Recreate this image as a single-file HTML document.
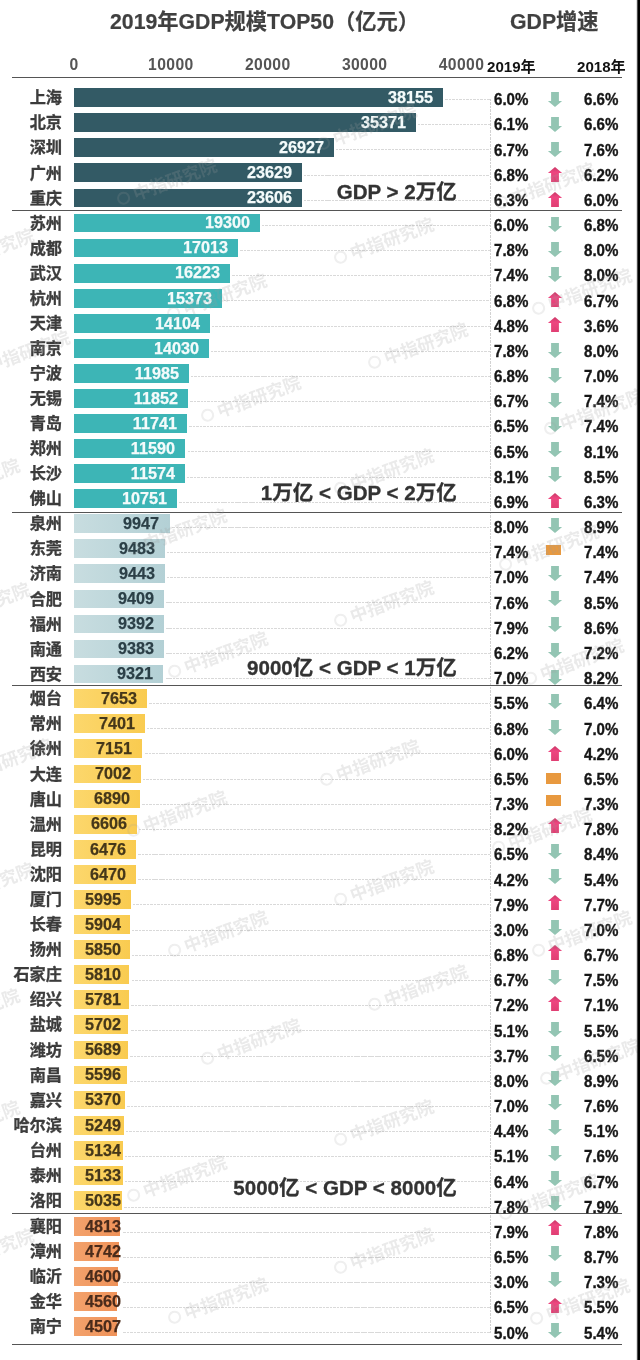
<!DOCTYPE html>
<html lang="zh"><head><meta charset="utf-8"><title>2019年GDP规模TOP50</title>
<style>
html,body{margin:0;padding:0;background:#fff}
body{width:640px;height:1360px;position:relative;overflow:hidden;font-family:"Liberation Sans","Noto Sans CJK SC",sans-serif;font-weight:bold;color:#333}
.wrap{position:absolute;left:0;top:0;width:640px;height:1360px;overflow:hidden;will-change:transform}
.a{position:absolute;white-space:nowrap}
.ttl{font-size:21.25px;line-height:30px;color:#404040;-webkit-text-stroke:.2px #404040}
.ax{font-size:15.7px;line-height:20px;color:#555;text-align:center;width:60px;letter-spacing:.4px;text-indent:.4px}
.yr{font-size:15.1px;line-height:20px;color:#111}
.hl{height:1px;background:#555;left:12px;width:610px}
.city{font-size:16.2px;line-height:20px;color:#3c3c3c;-webkit-text-stroke:.3px #3c3c3c;text-align:right;width:70px;left:-8px}
.bar{left:74.3px;height:18.9px}
.g1{background:#335a65}
.g2{background:#3db5b6}
.g3{background:linear-gradient(90deg,#c8dde0,#b3d0d5)}
.g4{background:linear-gradient(90deg,#fcd76c,#f9cb50)}
.g5{background:linear-gradient(90deg,#f3a26c,#ef9259)}
.num{font-size:16.9px;line-height:20px;width:70px;text-align:right;transform:scaleX(.96);transform-origin:100% 50%;-webkit-text-stroke:.25px}
.n1,.n2{color:#f4fbfb}
.n3{color:#2b3f47}
.n4{color:#45371a}
.n5{color:#4a2b1b}
.pc{font-size:15.8px;line-height:20px;color:#161616;-webkit-text-stroke:.35px #161616;transform:scaleX(.955);transform-origin:0 50%}
.dl{height:1px;background:repeating-linear-gradient(90deg,#d9d9d9 0,#d9d9d9 2.5px,transparent 2.5px,transparent 3.5px)}
.vl{width:1px;background:repeating-linear-gradient(180deg,#d2d2d2 0,#d2d2d2 2.5px,transparent 2.5px,transparent 3.5px);left:490px;top:99px;height:1234px}
.ann{font-size:20.55px;line-height:28px;color:#333;-webkit-text-stroke:.3px #333;text-align:right;width:300px;left:156.8px}
.ar{width:16px;height:15px;left:547px}
.eq{left:546.3px;width:14.8px;height:10.8px;background:#e8993f}
.wm{font-size:17.6px;line-height:20px;width:88px;color:#9d9d9d;opacity:.21;transform:rotate(-20deg);font-weight:bold}
.wm:before{content:'';position:absolute;left:-17px;top:3px;width:9px;height:9px;border:2.5px solid #9d9d9d;border-radius:50%;opacity:.8}
.edge{left:636px;top:0;width:4px;height:1360px;background:linear-gradient(90deg,rgba(0,0,0,.12) 0,rgba(0,0,0,.12) 1px,rgba(0,0,0,.7) 1px,rgba(0,0,0,.7) 2px,#000 2px)}
</style></head><body><div class="wrap">

<div class="a vl"></div>
<div class="a dl" style="left:444.9px;top:99.0px;width:45.1px"></div>
<div class="a dl" style="left:417.9px;top:124.2px;width:72.1px"></div>
<div class="a dl" style="left:336.1px;top:149.3px;width:153.9px"></div>
<div class="a dl" style="left:304.1px;top:174.5px;width:185.9px"></div>
<div class="a dl" style="left:303.9px;top:199.7px;width:186.1px"></div>
<div class="a dl" style="left:262.2px;top:224.9px;width:227.8px"></div>
<div class="a dl" style="left:240.1px;top:250.0px;width:249.9px"></div>
<div class="a dl" style="left:232.4px;top:275.2px;width:257.6px"></div>
<div class="a dl" style="left:224.2px;top:300.4px;width:265.8px"></div>
<div class="a dl" style="left:211.9px;top:325.5px;width:278.1px"></div>
<div class="a dl" style="left:211.2px;top:350.7px;width:278.8px"></div>
<div class="a dl" style="left:191.3px;top:375.9px;width:298.7px"></div>
<div class="a dl" style="left:190.1px;top:401.0px;width:299.9px"></div>
<div class="a dl" style="left:189.0px;top:426.2px;width:301.0px"></div>
<div class="a dl" style="left:187.5px;top:451.4px;width:302.5px"></div>
<div class="a dl" style="left:187.4px;top:476.6px;width:302.6px"></div>
<div class="a dl" style="left:179.4px;top:501.7px;width:310.6px"></div>
<div class="a dl" style="left:171.6px;top:526.9px;width:318.4px"></div>
<div class="a dl" style="left:167.1px;top:552.1px;width:322.9px"></div>
<div class="a dl" style="left:166.7px;top:577.2px;width:323.3px"></div>
<div class="a dl" style="left:166.4px;top:602.4px;width:323.6px"></div>
<div class="a dl" style="left:166.2px;top:627.6px;width:323.8px"></div>
<div class="a dl" style="left:166.1px;top:652.7px;width:323.9px"></div>
<div class="a dl" style="left:165.5px;top:677.9px;width:324.5px"></div>
<div class="a dl" style="left:149.4px;top:703.1px;width:340.6px"></div>
<div class="a dl" style="left:146.9px;top:728.2px;width:343.1px"></div>
<div class="a dl" style="left:144.5px;top:753.4px;width:345.5px"></div>
<div class="a dl" style="left:143.1px;top:778.6px;width:346.9px"></div>
<div class="a dl" style="left:142.0px;top:803.8px;width:348.0px"></div>
<div class="a dl" style="left:139.2px;top:828.9px;width:350.8px"></div>
<div class="a dl" style="left:138.0px;top:854.1px;width:352.0px"></div>
<div class="a dl" style="left:137.9px;top:879.3px;width:352.1px"></div>
<div class="a dl" style="left:133.3px;top:904.4px;width:356.7px"></div>
<div class="a dl" style="left:132.4px;top:929.6px;width:357.6px"></div>
<div class="a dl" style="left:131.9px;top:954.8px;width:358.1px"></div>
<div class="a dl" style="left:131.5px;top:980.0px;width:358.5px"></div>
<div class="a dl" style="left:131.3px;top:1005.1px;width:358.7px"></div>
<div class="a dl" style="left:130.5px;top:1030.3px;width:359.5px"></div>
<div class="a dl" style="left:130.4px;top:1055.5px;width:359.6px"></div>
<div class="a dl" style="left:129.5px;top:1080.6px;width:360.5px"></div>
<div class="a dl" style="left:127.3px;top:1105.8px;width:362.7px"></div>
<div class="a dl" style="left:126.1px;top:1131.0px;width:363.9px"></div>
<div class="a dl" style="left:125.0px;top:1156.1px;width:365.0px"></div>
<div class="a dl" style="left:125.0px;top:1181.3px;width:365.0px"></div>
<div class="a dl" style="left:124.0px;top:1206.5px;width:366.0px"></div>
<div class="a dl" style="left:122.7px;top:1231.7px;width:367.3px"></div>
<div class="a dl" style="left:122.7px;top:1256.8px;width:367.3px"></div>
<div class="a dl" style="left:122.7px;top:1282.0px;width:367.3px"></div>
<div class="a dl" style="left:122.7px;top:1307.2px;width:367.3px"></div>
<div class="a dl" style="left:122.7px;top:1332.3px;width:367.3px"></div>
<div class="a ttl" style="left:110px;top:6.5px">2019年GDP规模TOP50（亿元）</div>
<div class="a ttl" style="left:510px;top:6.5px">GDP增速</div>
<div class="a ax" style="left:43.8px;top:54.5px">0</div>
<div class="a ax" style="left:140.7px;top:54.5px">10000</div>
<div class="a ax" style="left:237.6px;top:54.5px">20000</div>
<div class="a ax" style="left:334.5px;top:54.5px">30000</div>
<div class="a ax" style="left:431.3px;top:54.5px">40000</div>
<div class="a yr" style="left:487px;top:57px">2019年</div>
<div class="a yr" style="left:577px;top:57px">2018年</div>
<div class="a hl" style="top:76.8px"></div>
<div class="a hl" style="top:209.7px"></div>
<div class="a hl" style="top:511.9px"></div>
<div class="a hl" style="top:685.3px"></div>
<div class="a hl" style="top:1212.7px"></div>
<div class="a hl" style="top:1343.7px"></div>
<div class="a city" style="top:87.3px">上海</div>
<div class="a bar g1" style="top:88.2px;width:368.6px"></div>
<div class="a num n1" style="left:362.7px;top:88.0px">38155</div>
<div class="a pc" style="left:493.7px;top:90.2px">6.0%</div>
<svg class="a ar" style="top:92.2px" viewBox="0 0 16 15"><polygon points="4.1,0 11.9,0 11.9,8.9 15.1,8.9 8,15 0.9,8.9 4.1,8.9" fill="#93c5b3"/></svg>
<div class="a pc" style="left:583.7px;top:90.2px">6.6%</div>
<div class="a city" style="top:112.4px">北京</div>
<div class="a bar g1" style="top:113.3px;width:341.6px"></div>
<div class="a num n1" style="left:335.7px;top:113.1px">35371</div>
<div class="a pc" style="left:493.7px;top:115.4px">6.1%</div>
<svg class="a ar" style="top:117.2px" viewBox="0 0 16 15"><polygon points="4.1,0 11.9,0 11.9,8.9 15.1,8.9 8,15 0.9,8.9 4.1,8.9" fill="#93c5b3"/></svg>
<div class="a pc" style="left:583.7px;top:115.4px">6.6%</div>
<div class="a city" style="top:137.4px">深圳</div>
<div class="a bar g1" style="top:138.4px;width:259.8px"></div>
<div class="a num n1" style="left:253.9px;top:138.1px">26927</div>
<div class="a pc" style="left:493.7px;top:140.5px">6.7%</div>
<svg class="a ar" style="top:142.2px" viewBox="0 0 16 15"><polygon points="4.1,0 11.9,0 11.9,8.9 15.1,8.9 8,15 0.9,8.9 4.1,8.9" fill="#93c5b3"/></svg>
<div class="a pc" style="left:583.7px;top:140.5px">7.6%</div>
<div class="a city" style="top:162.5px">广州</div>
<div class="a bar g1" style="top:163.4px;width:227.8px"></div>
<div class="a num n1" style="left:221.9px;top:163.2px">23629</div>
<div class="a pc" style="left:493.7px;top:165.7px">6.8%</div>
<svg class="a ar" style="top:166.9px" viewBox="0 0 16 15"><defs><linearGradient id="u3" x1="0" y1="0" x2="0" y2="1"><stop offset="0" stop-color="#c93866"/><stop offset=".35" stop-color="#ee4680"/><stop offset="1" stop-color="#e03f73"/></linearGradient></defs><polygon points="8,0 15.1,6 11.9,6 11.9,15 4.1,15 4.1,6 0.9,6" fill="url(#u3)"/></svg>
<div class="a pc" style="left:583.7px;top:165.7px">6.2%</div>
<div class="a city" style="top:187.5px">重庆</div>
<div class="a bar g1" style="top:188.5px;width:227.6px"></div>
<div class="a num n1" style="left:221.7px;top:188.2px">23606</div>
<div class="a pc" style="left:493.7px;top:190.9px">6.3%</div>
<svg class="a ar" style="top:192.2px" viewBox="0 0 16 15"><defs><linearGradient id="u4" x1="0" y1="0" x2="0" y2="1"><stop offset="0" stop-color="#c93866"/><stop offset=".35" stop-color="#ee4680"/><stop offset="1" stop-color="#e03f73"/></linearGradient></defs><polygon points="8,0 15.1,6 11.9,6 11.9,15 4.1,15 4.1,6 0.9,6" fill="url(#u4)"/></svg>
<div class="a pc" style="left:583.7px;top:190.9px">6.0%</div>
<div class="a city" style="top:212.6px">苏州</div>
<div class="a bar g2" style="top:213.6px;width:185.9px"></div>
<div class="a num n2" style="left:180.0px;top:213.3px">19300</div>
<div class="a pc" style="left:493.7px;top:216.1px">6.0%</div>
<svg class="a ar" style="top:217.2px" viewBox="0 0 16 15"><polygon points="4.1,0 11.9,0 11.9,8.9 15.1,8.9 8,15 0.9,8.9 4.1,8.9" fill="#93c5b3"/></svg>
<div class="a pc" style="left:583.7px;top:216.1px">6.8%</div>
<div class="a city" style="top:237.7px">成都</div>
<div class="a bar g2" style="top:238.6px;width:163.8px"></div>
<div class="a num n2" style="left:157.9px;top:238.4px">17013</div>
<div class="a pc" style="left:493.7px;top:241.2px">7.8%</div>
<svg class="a ar" style="top:242.2px" viewBox="0 0 16 15"><polygon points="4.1,0 11.9,0 11.9,8.9 15.1,8.9 8,15 0.9,8.9 4.1,8.9" fill="#93c5b3"/></svg>
<div class="a pc" style="left:583.7px;top:241.2px">8.0%</div>
<div class="a city" style="top:262.7px">武汉</div>
<div class="a bar g2" style="top:263.7px;width:156.1px"></div>
<div class="a num n2" style="left:150.2px;top:263.4px">16223</div>
<div class="a pc" style="left:493.7px;top:266.4px">7.4%</div>
<svg class="a ar" style="top:267.2px" viewBox="0 0 16 15"><polygon points="4.1,0 11.9,0 11.9,8.9 15.1,8.9 8,15 0.9,8.9 4.1,8.9" fill="#93c5b3"/></svg>
<div class="a pc" style="left:583.7px;top:266.4px">8.0%</div>
<div class="a city" style="top:287.8px">杭州</div>
<div class="a bar g2" style="top:288.7px;width:147.9px"></div>
<div class="a num n2" style="left:142.0px;top:288.5px">15373</div>
<div class="a pc" style="left:493.7px;top:291.6px">6.8%</div>
<svg class="a ar" style="top:292.2px" viewBox="0 0 16 15"><defs><linearGradient id="u8" x1="0" y1="0" x2="0" y2="1"><stop offset="0" stop-color="#c93866"/><stop offset=".35" stop-color="#ee4680"/><stop offset="1" stop-color="#e03f73"/></linearGradient></defs><polygon points="8,0 15.1,6 11.9,6 11.9,15 4.1,15 4.1,6 0.9,6" fill="url(#u8)"/></svg>
<div class="a pc" style="left:583.7px;top:291.6px">6.7%</div>
<div class="a city" style="top:312.8px">天津</div>
<div class="a bar g2" style="top:313.8px;width:135.6px"></div>
<div class="a num n2" style="left:129.7px;top:313.5px">14104</div>
<div class="a pc" style="left:493.7px;top:316.7px">4.8%</div>
<svg class="a ar" style="top:317.2px" viewBox="0 0 16 15"><defs><linearGradient id="u9" x1="0" y1="0" x2="0" y2="1"><stop offset="0" stop-color="#c93866"/><stop offset=".35" stop-color="#ee4680"/><stop offset="1" stop-color="#e03f73"/></linearGradient></defs><polygon points="8,0 15.1,6 11.9,6 11.9,15 4.1,15 4.1,6 0.9,6" fill="url(#u9)"/></svg>
<div class="a pc" style="left:583.7px;top:316.7px">3.6%</div>
<div class="a city" style="top:337.9px">南京</div>
<div class="a bar g2" style="top:338.9px;width:134.9px"></div>
<div class="a num n2" style="left:129.0px;top:338.6px">14030</div>
<div class="a pc" style="left:493.7px;top:341.9px">7.8%</div>
<svg class="a ar" style="top:343.1px" viewBox="0 0 16 15"><polygon points="4.1,0 11.9,0 11.9,8.9 15.1,8.9 8,15 0.9,8.9 4.1,8.9" fill="#93c5b3"/></svg>
<div class="a pc" style="left:583.7px;top:341.9px">8.0%</div>
<div class="a city" style="top:363.0px">宁波</div>
<div class="a bar g2" style="top:363.9px;width:115.0px"></div>
<div class="a num n2" style="left:109.1px;top:363.7px">11985</div>
<div class="a pc" style="left:493.7px;top:367.1px">6.8%</div>
<svg class="a ar" style="top:367.5px" viewBox="0 0 16 15"><polygon points="4.1,0 11.9,0 11.9,8.9 15.1,8.9 8,15 0.9,8.9 4.1,8.9" fill="#93c5b3"/></svg>
<div class="a pc" style="left:583.7px;top:367.1px">7.0%</div>
<div class="a city" style="top:388.0px">无锡</div>
<div class="a bar g2" style="top:389.0px;width:113.8px"></div>
<div class="a num n2" style="left:107.9px;top:388.7px">11852</div>
<div class="a pc" style="left:493.7px;top:392.2px">6.7%</div>
<svg class="a ar" style="top:392.5px" viewBox="0 0 16 15"><polygon points="4.1,0 11.9,0 11.9,8.9 15.1,8.9 8,15 0.9,8.9 4.1,8.9" fill="#93c5b3"/></svg>
<div class="a pc" style="left:583.7px;top:392.2px">7.4%</div>
<div class="a city" style="top:413.1px">青岛</div>
<div class="a bar g2" style="top:414.0px;width:112.7px"></div>
<div class="a num n2" style="left:106.8px;top:413.8px">11741</div>
<div class="a pc" style="left:493.7px;top:417.4px">6.5%</div>
<svg class="a ar" style="top:417.2px" viewBox="0 0 16 15"><polygon points="4.1,0 11.9,0 11.9,8.9 15.1,8.9 8,15 0.9,8.9 4.1,8.9" fill="#93c5b3"/></svg>
<div class="a pc" style="left:583.7px;top:417.4px">7.4%</div>
<div class="a city" style="top:438.1px">郑州</div>
<div class="a bar g2" style="top:439.1px;width:111.2px"></div>
<div class="a num n2" style="left:105.3px;top:438.8px">11590</div>
<div class="a pc" style="left:493.7px;top:442.6px">6.5%</div>
<svg class="a ar" style="top:442.2px" viewBox="0 0 16 15"><polygon points="4.1,0 11.9,0 11.9,8.9 15.1,8.9 8,15 0.9,8.9 4.1,8.9" fill="#93c5b3"/></svg>
<div class="a pc" style="left:583.7px;top:442.6px">8.1%</div>
<div class="a city" style="top:463.2px">长沙</div>
<div class="a bar g2" style="top:464.1px;width:111.1px"></div>
<div class="a num n2" style="left:105.2px;top:463.9px">11574</div>
<div class="a pc" style="left:493.7px;top:467.8px">8.1%</div>
<svg class="a ar" style="top:467.2px" viewBox="0 0 16 15"><polygon points="4.1,0 11.9,0 11.9,8.9 15.1,8.9 8,15 0.9,8.9 4.1,8.9" fill="#93c5b3"/></svg>
<div class="a pc" style="left:583.7px;top:467.8px">8.5%</div>
<div class="a city" style="top:488.3px">佛山</div>
<div class="a bar g2" style="top:489.2px;width:103.1px"></div>
<div class="a num n2" style="left:97.2px;top:489.0px">10751</div>
<div class="a pc" style="left:493.7px;top:492.9px">6.9%</div>
<svg class="a ar" style="top:492.5px" viewBox="0 0 16 15"><defs><linearGradient id="u16" x1="0" y1="0" x2="0" y2="1"><stop offset="0" stop-color="#c93866"/><stop offset=".35" stop-color="#ee4680"/><stop offset="1" stop-color="#e03f73"/></linearGradient></defs><polygon points="8,0 15.1,6 11.9,6 11.9,15 4.1,15 4.1,6 0.9,6" fill="url(#u16)"/></svg>
<div class="a pc" style="left:583.7px;top:492.9px">6.3%</div>
<div class="a city" style="top:513.3px">泉州</div>
<div class="a bar g3" style="top:514.3px;width:95.3px"></div>
<div class="a num n3" style="left:89.4px;top:514.0px">9947</div>
<div class="a pc" style="left:493.7px;top:518.1px">8.0%</div>
<svg class="a ar" style="top:518.4px" viewBox="0 0 16 15"><polygon points="4.1,0 11.9,0 11.9,8.9 15.1,8.9 8,15 0.9,8.9 4.1,8.9" fill="#93c5b3"/></svg>
<div class="a pc" style="left:583.7px;top:518.1px">8.9%</div>
<div class="a city" style="top:538.4px">东莞</div>
<div class="a bar g3" style="top:539.3px;width:90.8px"></div>
<div class="a num n3" style="left:84.9px;top:539.1px">9483</div>
<div class="a pc" style="left:493.7px;top:543.3px">7.4%</div>
<div class="a eq" style="top:544.6px"></div>
<div class="a pc" style="left:583.7px;top:543.3px">7.4%</div>
<div class="a city" style="top:563.4px">济南</div>
<div class="a bar g3" style="top:564.4px;width:90.4px"></div>
<div class="a num n3" style="left:84.5px;top:564.1px">9443</div>
<div class="a pc" style="left:493.7px;top:568.4px">7.0%</div>
<svg class="a ar" style="top:566.2px" viewBox="0 0 16 15"><polygon points="4.1,0 11.9,0 11.9,8.9 15.1,8.9 8,15 0.9,8.9 4.1,8.9" fill="#93c5b3"/></svg>
<div class="a pc" style="left:583.7px;top:568.4px">7.4%</div>
<div class="a city" style="top:588.5px">合肥</div>
<div class="a bar g3" style="top:589.5px;width:90.1px"></div>
<div class="a num n3" style="left:84.2px;top:589.2px">9409</div>
<div class="a pc" style="left:493.7px;top:593.6px">7.6%</div>
<svg class="a ar" style="top:591.2px" viewBox="0 0 16 15"><polygon points="4.1,0 11.9,0 11.9,8.9 15.1,8.9 8,15 0.9,8.9 4.1,8.9" fill="#93c5b3"/></svg>
<div class="a pc" style="left:583.7px;top:593.6px">8.5%</div>
<div class="a city" style="top:613.6px">福州</div>
<div class="a bar g3" style="top:614.5px;width:89.9px"></div>
<div class="a num n3" style="left:84.0px;top:614.3px">9392</div>
<div class="a pc" style="left:493.7px;top:618.8px">7.9%</div>
<svg class="a ar" style="top:617.2px" viewBox="0 0 16 15"><polygon points="4.1,0 11.9,0 11.9,8.9 15.1,8.9 8,15 0.9,8.9 4.1,8.9" fill="#93c5b3"/></svg>
<div class="a pc" style="left:583.7px;top:618.8px">8.6%</div>
<div class="a city" style="top:638.6px">南通</div>
<div class="a bar g3" style="top:639.6px;width:89.8px"></div>
<div class="a num n3" style="left:83.9px;top:639.3px">9383</div>
<div class="a pc" style="left:493.7px;top:643.9px">6.2%</div>
<svg class="a ar" style="top:643.4px" viewBox="0 0 16 15"><polygon points="4.1,0 11.9,0 11.9,8.9 15.1,8.9 8,15 0.9,8.9 4.1,8.9" fill="#93c5b3"/></svg>
<div class="a pc" style="left:583.7px;top:643.9px">7.2%</div>
<div class="a city" style="top:663.7px">西安</div>
<div class="a bar g3" style="top:664.6px;width:89.2px"></div>
<div class="a num n3" style="left:83.3px;top:664.4px">9321</div>
<div class="a pc" style="left:493.7px;top:669.1px">7.0%</div>
<svg class="a ar" style="top:669.5px" viewBox="0 0 16 15"><polygon points="4.1,0 11.9,0 11.9,8.9 15.1,8.9 8,15 0.9,8.9 4.1,8.9" fill="#93c5b3"/></svg>
<div class="a pc" style="left:583.7px;top:669.1px">8.2%</div>
<div class="a city" style="top:688.3px">烟台</div>
<div class="a bar g4" style="top:689.2px;width:73.1px"></div>
<div class="a num n4" style="left:67.2px;top:689.0px">7653</div>
<div class="a pc" style="left:493.7px;top:694.3px">5.5%</div>
<svg class="a ar" style="top:694.1px" viewBox="0 0 16 15"><polygon points="4.1,0 11.9,0 11.9,8.9 15.1,8.9 8,15 0.9,8.9 4.1,8.9" fill="#93c5b3"/></svg>
<div class="a pc" style="left:583.7px;top:694.3px">6.4%</div>
<div class="a city" style="top:713.3px">常州</div>
<div class="a bar g4" style="top:714.3px;width:70.6px"></div>
<div class="a num n4" style="left:64.7px;top:714.0px">7401</div>
<div class="a pc" style="left:493.7px;top:719.5px">6.8%</div>
<svg class="a ar" style="top:719.5px" viewBox="0 0 16 15"><polygon points="4.1,0 11.9,0 11.9,8.9 15.1,8.9 8,15 0.9,8.9 4.1,8.9" fill="#93c5b3"/></svg>
<div class="a pc" style="left:583.7px;top:719.5px">7.0%</div>
<div class="a city" style="top:738.4px">徐州</div>
<div class="a bar g4" style="top:739.4px;width:68.2px"></div>
<div class="a num n4" style="left:62.3px;top:739.1px">7151</div>
<div class="a pc" style="left:493.7px;top:744.6px">6.0%</div>
<svg class="a ar" style="top:746.3px" viewBox="0 0 16 15"><defs><linearGradient id="u26" x1="0" y1="0" x2="0" y2="1"><stop offset="0" stop-color="#c93866"/><stop offset=".35" stop-color="#ee4680"/><stop offset="1" stop-color="#e03f73"/></linearGradient></defs><polygon points="8,0 15.1,6 11.9,6 11.9,15 4.1,15 4.1,6 0.9,6" fill="url(#u26)"/></svg>
<div class="a pc" style="left:583.7px;top:744.6px">4.2%</div>
<div class="a city" style="top:763.5px">大连</div>
<div class="a bar g4" style="top:764.5px;width:66.8px"></div>
<div class="a num n4" style="left:60.9px;top:764.2px">7002</div>
<div class="a pc" style="left:493.7px;top:769.8px">6.5%</div>
<div class="a eq" style="top:773.1px"></div>
<div class="a pc" style="left:583.7px;top:769.8px">6.5%</div>
<div class="a city" style="top:788.6px">唐山</div>
<div class="a bar g4" style="top:789.6px;width:65.7px"></div>
<div class="a num n4" style="left:59.8px;top:789.3px">6890</div>
<div class="a pc" style="left:493.7px;top:795.0px">7.3%</div>
<div class="a eq" style="top:795.1px"></div>
<div class="a pc" style="left:583.7px;top:795.0px">7.3%</div>
<div class="a city" style="top:813.7px">温州</div>
<div class="a bar g4" style="top:814.7px;width:62.9px"></div>
<div class="a num n4" style="left:57.0px;top:814.4px">6606</div>
<div class="a pc" style="left:493.7px;top:820.1px">8.2%</div>
<svg class="a ar" style="top:817.7px" viewBox="0 0 16 15"><defs><linearGradient id="u29" x1="0" y1="0" x2="0" y2="1"><stop offset="0" stop-color="#c93866"/><stop offset=".35" stop-color="#ee4680"/><stop offset="1" stop-color="#e03f73"/></linearGradient></defs><polygon points="8,0 15.1,6 11.9,6 11.9,15 4.1,15 4.1,6 0.9,6" fill="url(#u29)"/></svg>
<div class="a pc" style="left:583.7px;top:820.1px">7.8%</div>
<div class="a city" style="top:838.8px">昆明</div>
<div class="a bar g4" style="top:839.7px;width:61.7px"></div>
<div class="a num n4" style="left:55.8px;top:839.5px">6476</div>
<div class="a pc" style="left:493.7px;top:845.3px">6.5%</div>
<svg class="a ar" style="top:844.1px" viewBox="0 0 16 15"><polygon points="4.1,0 11.9,0 11.9,8.9 15.1,8.9 8,15 0.9,8.9 4.1,8.9" fill="#93c5b3"/></svg>
<div class="a pc" style="left:583.7px;top:845.3px">8.4%</div>
<div class="a city" style="top:863.9px">沈阳</div>
<div class="a bar g4" style="top:864.8px;width:61.6px"></div>
<div class="a num n4" style="left:55.7px;top:864.6px">6470</div>
<div class="a pc" style="left:493.7px;top:870.5px">4.2%</div>
<svg class="a ar" style="top:869.1px" viewBox="0 0 16 15"><polygon points="4.1,0 11.9,0 11.9,8.9 15.1,8.9 8,15 0.9,8.9 4.1,8.9" fill="#93c5b3"/></svg>
<div class="a pc" style="left:583.7px;top:870.5px">5.4%</div>
<div class="a city" style="top:889.0px">厦门</div>
<div class="a bar g4" style="top:889.9px;width:57.0px"></div>
<div class="a num n4" style="left:51.1px;top:889.7px">5995</div>
<div class="a pc" style="left:493.7px;top:895.6px">7.9%</div>
<svg class="a ar" style="top:894.8px" viewBox="0 0 16 15"><defs><linearGradient id="u32" x1="0" y1="0" x2="0" y2="1"><stop offset="0" stop-color="#c93866"/><stop offset=".35" stop-color="#ee4680"/><stop offset="1" stop-color="#e03f73"/></linearGradient></defs><polygon points="8,0 15.1,6 11.9,6 11.9,15 4.1,15 4.1,6 0.9,6" fill="url(#u32)"/></svg>
<div class="a pc" style="left:583.7px;top:895.6px">7.7%</div>
<div class="a city" style="top:914.1px">长春</div>
<div class="a bar g4" style="top:915.0px;width:56.1px"></div>
<div class="a num n4" style="left:50.7px;top:914.8px">5904</div>
<div class="a pc" style="left:493.7px;top:920.8px">3.0%</div>
<svg class="a ar" style="top:919.8px" viewBox="0 0 16 15"><polygon points="4.1,0 11.9,0 11.9,8.9 15.1,8.9 8,15 0.9,8.9 4.1,8.9" fill="#93c5b3"/></svg>
<div class="a pc" style="left:583.7px;top:920.8px">7.0%</div>
<div class="a city" style="top:939.2px">扬州</div>
<div class="a bar g4" style="top:940.1px;width:55.6px"></div>
<div class="a num n4" style="left:50.7px;top:939.9px">5850</div>
<div class="a pc" style="left:493.7px;top:946.0px">6.8%</div>
<svg class="a ar" style="top:944.8px" viewBox="0 0 16 15"><defs><linearGradient id="u34" x1="0" y1="0" x2="0" y2="1"><stop offset="0" stop-color="#c93866"/><stop offset=".35" stop-color="#ee4680"/><stop offset="1" stop-color="#e03f73"/></linearGradient></defs><polygon points="8,0 15.1,6 11.9,6 11.9,15 4.1,15 4.1,6 0.9,6" fill="url(#u34)"/></svg>
<div class="a pc" style="left:583.7px;top:946.0px">6.7%</div>
<div class="a city" style="top:964.2px">石家庄</div>
<div class="a bar g4" style="top:965.2px;width:55.2px"></div>
<div class="a num n4" style="left:50.7px;top:964.9px">5810</div>
<div class="a pc" style="left:493.7px;top:971.2px">6.7%</div>
<svg class="a ar" style="top:970.0px" viewBox="0 0 16 15"><polygon points="4.1,0 11.9,0 11.9,8.9 15.1,8.9 8,15 0.9,8.9 4.1,8.9" fill="#93c5b3"/></svg>
<div class="a pc" style="left:583.7px;top:971.2px">7.5%</div>
<div class="a city" style="top:989.3px">绍兴</div>
<div class="a bar g4" style="top:990.3px;width:55.0px"></div>
<div class="a num n4" style="left:50.7px;top:990.0px">5781</div>
<div class="a pc" style="left:493.7px;top:996.3px">7.2%</div>
<svg class="a ar" style="top:995.5px" viewBox="0 0 16 15"><defs><linearGradient id="u36" x1="0" y1="0" x2="0" y2="1"><stop offset="0" stop-color="#c93866"/><stop offset=".35" stop-color="#ee4680"/><stop offset="1" stop-color="#e03f73"/></linearGradient></defs><polygon points="8,0 15.1,6 11.9,6 11.9,15 4.1,15 4.1,6 0.9,6" fill="url(#u36)"/></svg>
<div class="a pc" style="left:583.7px;top:996.3px">7.1%</div>
<div class="a city" style="top:1014.4px">盐城</div>
<div class="a bar g4" style="top:1015.4px;width:54.2px"></div>
<div class="a num n4" style="left:50.7px;top:1015.1px">5702</div>
<div class="a pc" style="left:493.7px;top:1021.5px">5.1%</div>
<svg class="a ar" style="top:1021.6px" viewBox="0 0 16 15"><polygon points="4.1,0 11.9,0 11.9,8.9 15.1,8.9 8,15 0.9,8.9 4.1,8.9" fill="#93c5b3"/></svg>
<div class="a pc" style="left:583.7px;top:1021.5px">5.5%</div>
<div class="a city" style="top:1039.5px">潍坊</div>
<div class="a bar g4" style="top:1040.5px;width:54.1px"></div>
<div class="a num n4" style="left:50.7px;top:1040.2px">5689</div>
<div class="a pc" style="left:493.7px;top:1046.7px">3.7%</div>
<svg class="a ar" style="top:1045.9px" viewBox="0 0 16 15"><polygon points="4.1,0 11.9,0 11.9,8.9 15.1,8.9 8,15 0.9,8.9 4.1,8.9" fill="#93c5b3"/></svg>
<div class="a pc" style="left:583.7px;top:1046.7px">6.5%</div>
<div class="a city" style="top:1064.6px">南昌</div>
<div class="a bar g4" style="top:1065.6px;width:53.2px"></div>
<div class="a num n4" style="left:50.7px;top:1065.3px">5596</div>
<div class="a pc" style="left:493.7px;top:1071.8px">8.0%</div>
<svg class="a ar" style="top:1070.6px" viewBox="0 0 16 15"><polygon points="4.1,0 11.9,0 11.9,8.9 15.1,8.9 8,15 0.9,8.9 4.1,8.9" fill="#93c5b3"/></svg>
<div class="a pc" style="left:583.7px;top:1071.8px">8.9%</div>
<div class="a city" style="top:1089.7px">嘉兴</div>
<div class="a bar g4" style="top:1090.6px;width:51.0px"></div>
<div class="a num n4" style="left:50.7px;top:1090.4px">5370</div>
<div class="a pc" style="left:493.7px;top:1097.0px">7.0%</div>
<svg class="a ar" style="top:1095.4px" viewBox="0 0 16 15"><polygon points="4.1,0 11.9,0 11.9,8.9 15.1,8.9 8,15 0.9,8.9 4.1,8.9" fill="#93c5b3"/></svg>
<div class="a pc" style="left:583.7px;top:1097.0px">7.6%</div>
<div class="a city" style="top:1114.8px">哈尔滨</div>
<div class="a bar g4" style="top:1115.7px;width:49.8px"></div>
<div class="a num n4" style="left:50.7px;top:1115.5px">5249</div>
<div class="a pc" style="left:493.7px;top:1122.2px">4.4%</div>
<svg class="a ar" style="top:1120.3px" viewBox="0 0 16 15"><polygon points="4.1,0 11.9,0 11.9,8.9 15.1,8.9 8,15 0.9,8.9 4.1,8.9" fill="#93c5b3"/></svg>
<div class="a pc" style="left:583.7px;top:1122.2px">5.1%</div>
<div class="a city" style="top:1139.9px">台州</div>
<div class="a bar g4" style="top:1140.8px;width:48.7px"></div>
<div class="a num n4" style="left:50.7px;top:1140.6px">5134</div>
<div class="a pc" style="left:493.7px;top:1147.3px">5.1%</div>
<svg class="a ar" style="top:1145.5px" viewBox="0 0 16 15"><polygon points="4.1,0 11.9,0 11.9,8.9 15.1,8.9 8,15 0.9,8.9 4.1,8.9" fill="#93c5b3"/></svg>
<div class="a pc" style="left:583.7px;top:1147.3px">7.6%</div>
<div class="a city" style="top:1165.0px">泰州</div>
<div class="a bar g4" style="top:1165.9px;width:48.7px"></div>
<div class="a num n4" style="left:50.7px;top:1165.7px">5133</div>
<div class="a pc" style="left:493.7px;top:1172.5px">6.4%</div>
<svg class="a ar" style="top:1170.6px" viewBox="0 0 16 15"><polygon points="4.1,0 11.9,0 11.9,8.9 15.1,8.9 8,15 0.9,8.9 4.1,8.9" fill="#93c5b3"/></svg>
<div class="a pc" style="left:583.7px;top:1172.5px">6.7%</div>
<div class="a city" style="top:1190.0px">洛阳</div>
<div class="a bar g4" style="top:1191.0px;width:47.7px"></div>
<div class="a num n4" style="left:50.7px;top:1190.8px">5035</div>
<div class="a pc" style="left:493.7px;top:1197.7px">7.8%</div>
<svg class="a ar" style="top:1195.8px" viewBox="0 0 16 15"><polygon points="4.1,0 11.9,0 11.9,8.9 15.1,8.9 8,15 0.9,8.9 4.1,8.9" fill="#93c5b3"/></svg>
<div class="a pc" style="left:583.7px;top:1197.7px">7.9%</div>
<div class="a city" style="top:1216.0px">襄阳</div>
<div class="a bar g5" style="top:1216.9px;width:45.6px"></div>
<div class="a num n5" style="left:50.7px;top:1216.7px">4813</div>
<div class="a pc" style="left:493.7px;top:1222.9px">7.9%</div>
<svg class="a ar" style="top:1220.3px" viewBox="0 0 16 15"><defs><linearGradient id="u45" x1="0" y1="0" x2="0" y2="1"><stop offset="0" stop-color="#c93866"/><stop offset=".35" stop-color="#ee4680"/><stop offset="1" stop-color="#e03f73"/></linearGradient></defs><polygon points="8,0 15.1,6 11.9,6 11.9,15 4.1,15 4.1,6 0.9,6" fill="url(#u45)"/></svg>
<div class="a pc" style="left:583.7px;top:1222.9px">7.8%</div>
<div class="a city" style="top:1241.0px">漳州</div>
<div class="a bar g5" style="top:1241.9px;width:44.9px"></div>
<div class="a num n5" style="left:50.7px;top:1241.7px">4742</div>
<div class="a pc" style="left:493.7px;top:1248.0px">6.5%</div>
<svg class="a ar" style="top:1245.5px" viewBox="0 0 16 15"><polygon points="4.1,0 11.9,0 11.9,8.9 15.1,8.9 8,15 0.9,8.9 4.1,8.9" fill="#93c5b3"/></svg>
<div class="a pc" style="left:583.7px;top:1248.0px">8.7%</div>
<div class="a city" style="top:1266.0px">临沂</div>
<div class="a bar g5" style="top:1266.9px;width:43.5px"></div>
<div class="a num n5" style="left:50.7px;top:1266.7px">4600</div>
<div class="a pc" style="left:493.7px;top:1273.2px">3.0%</div>
<svg class="a ar" style="top:1271.8px" viewBox="0 0 16 15"><polygon points="4.1,0 11.9,0 11.9,8.9 15.1,8.9 8,15 0.9,8.9 4.1,8.9" fill="#93c5b3"/></svg>
<div class="a pc" style="left:583.7px;top:1273.2px">7.3%</div>
<div class="a city" style="top:1291.0px">金华</div>
<div class="a bar g5" style="top:1291.9px;width:43.1px"></div>
<div class="a num n5" style="left:50.7px;top:1291.7px">4560</div>
<div class="a pc" style="left:493.7px;top:1298.4px">6.5%</div>
<svg class="a ar" style="top:1297.5px" viewBox="0 0 16 15"><defs><linearGradient id="u48" x1="0" y1="0" x2="0" y2="1"><stop offset="0" stop-color="#c93866"/><stop offset=".35" stop-color="#ee4680"/><stop offset="1" stop-color="#e03f73"/></linearGradient></defs><polygon points="8,0 15.1,6 11.9,6 11.9,15 4.1,15 4.1,6 0.9,6" fill="url(#u48)"/></svg>
<div class="a pc" style="left:583.7px;top:1298.4px">5.5%</div>
<div class="a city" style="top:1316.0px">南宁</div>
<div class="a bar g5" style="top:1316.9px;width:42.6px"></div>
<div class="a num n5" style="left:50.7px;top:1316.7px">4507</div>
<div class="a pc" style="left:493.7px;top:1323.5px">5.0%</div>
<svg class="a ar" style="top:1323.2px" viewBox="0 0 16 15"><polygon points="4.1,0 11.9,0 11.9,8.9 15.1,8.9 8,15 0.9,8.9 4.1,8.9" fill="#93c5b3"/></svg>
<div class="a pc" style="left:583.7px;top:1323.5px">5.4%</div>
<div class="a ann" style="top:178.0px">GDP &gt; 2万亿</div>
<div class="a ann" style="top:479.0px">1万亿 &lt; GDP &lt; 2万亿</div>
<div class="a ann" style="top:654.3px">9000亿 &lt; GDP &lt; 1万亿</div>
<div class="a ann" style="top:1174.3px">5000亿 &lt; GDP &lt; 8000亿</div>
<div class="a wm" style="left:331px;top:115px">中指研究院</div>
<div class="a wm" style="left:131px;top:170px">中指研究院</div>
<div class="a wm" style="left:509px;top:174px">中指研究院</div>
<div class="a wm" style="left:348px;top:229px">中指研究院</div>
<div class="a wm" style="left:181px;top:285px">中指研究院</div>
<div class="a wm" style="left:546px;top:280px">中指研究院</div>
<div class="a wm" style="left:382px;top:334px">中指研究院</div>
<div class="a wm" style="left:215px;top:387px">中指研究院</div>
<div class="a wm" style="left:558px;top:400px">中指研究院</div>
<div class="a wm" style="left:348px;top:460px">中指研究院</div>
<div class="a wm" style="left:141px;top:520px">中指研究院</div>
<div class="a wm" style="left:513px;top:536px">中指研究院</div>
<div class="a wm" style="left:348px;top:592px">中指研究院</div>
<div class="a wm" style="left:182px;top:643px">中指研究院</div>
<div class="a wm" style="left:538px;top:650px">中指研究院</div>
<div class="a wm" style="left:334px;top:751px">中指研究院</div>
<div class="a wm" style="left:141px;top:802px">中指研究院</div>
<div class="a wm" style="left:506px;top:819px">中指研究院</div>
<div class="a wm" style="left:348px;top:871px">中指研究院</div>
<div class="a wm" style="left:182px;top:922px">中指研究院</div>
<div class="a wm" style="left:546px;top:922px">中指研究院</div>
<div class="a wm" style="left:382px;top:976px">中指研究院</div>
<div class="a wm" style="left:215px;top:1030px">中指研究院</div>
<div class="a wm" style="left:554px;top:1050px">中指研究院</div>
<div class="a wm" style="left:348px;top:1111px">中指研究院</div>
<div class="a wm" style="left:141px;top:1167px">中指研究院</div>
<div class="a wm" style="left:513px;top:1185px">中指研究院</div>
<div class="a wm" style="left:348px;top:1239px">中指研究院</div>
<div class="a wm" style="left:182px;top:1289px">中指研究院</div>
<div class="a wm" style="left:544px;top:1290px">中指研究院</div>
<div class="a wm" style="left:-52px;top:240px">中指研究院</div>
<div class="a wm" style="left:-16px;top:342px">中指研究院</div>
<div class="a wm" style="left:-66px;top:470px">中指研究院</div>
<div class="a wm" style="left:-56px;top:594px">中指研究院</div>
<div class="a wm" style="left:-52px;top:874px">中指研究院</div>
<div class="a wm" style="left:-66px;top:1000px">中指研究院</div>
<div class="a wm" style="left:-66px;top:1112px">中指研究院</div>
<div class="a wm" style="left:-52px;top:1240px">中指研究院</div>
<div class="a wm" style="left:-34px;top:750px">中指研究院</div>
<div class="a edge"></div>
</div></body></html>
